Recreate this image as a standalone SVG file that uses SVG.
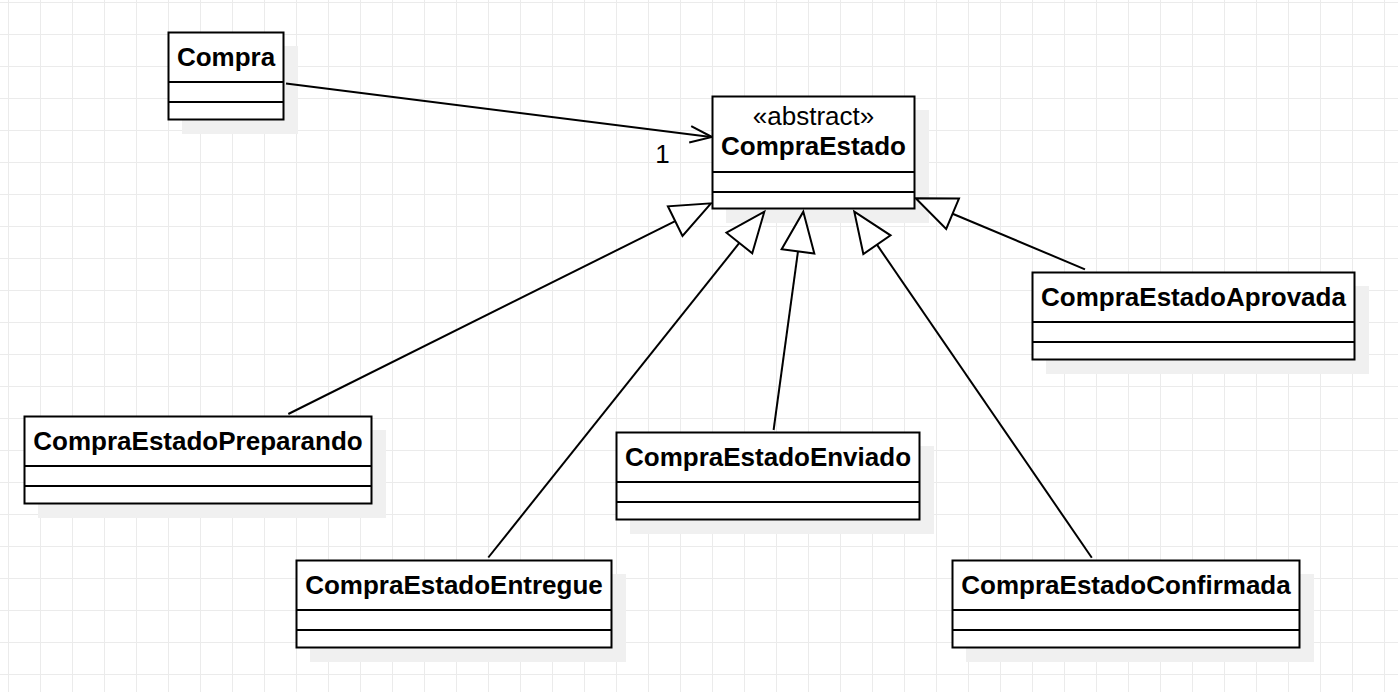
<svg xmlns="http://www.w3.org/2000/svg" width="1398" height="692" viewBox="0 0 1398 692">
<style>
.box{fill:#ffffff;stroke:#000000;stroke-width:2}
.sh{fill:#f0f0f0;stroke:none}
.div{stroke:#000000;stroke-width:2;fill:none}
.t{font-family:"Liberation Sans",Arial,sans-serif;font-size:26px;font-weight:bold;fill:#000000;text-anchor:middle}
.st{font-family:"Liberation Sans",Arial,sans-serif;font-size:26px;font-weight:normal;fill:#000000;text-anchor:middle}
.edge{stroke:#000000;stroke-width:2;fill:none}
.tri{fill:#ffffff;stroke:#000000;stroke-width:2;stroke-linejoin:miter}
</style>
<defs>
<pattern id="grid" x="8" y="2" width="32" height="32" patternUnits="userSpaceOnUse">
<path d="M0 0.5H32M0.5 0V32" stroke="#ebebeb" stroke-width="1" fill="none"/>
</pattern>
</defs>
<rect x="0" y="0" width="1398" height="692" fill="#ffffff"/>
<rect x="0" y="0" width="1398" height="692" fill="url(#grid)"/>

<g id="shadows">
<rect class="sh" x="182" y="46" width="116" height="88"/>
<rect class="sh" x="726" y="110" width="203" height="113"/>
<rect class="sh" x="38" y="430" width="348" height="88"/>
<rect class="sh" x="630" y="446" width="304" height="88"/>
<rect class="sh" x="310" y="574" width="316" height="88"/>
<rect class="sh" x="966" y="574" width="348" height="88"/>
<rect class="sh" x="1046" y="286" width="323" height="88"/>
</g>

<g id="connectors">
<line class="edge" x1="286" y1="83.5" x2="711" y2="137"/>
<polyline class="edge" points="691.2,126.1 712,137 689.2,142.5"/>
<text class="st" x="662.5" y="163">1</text>

<line class="edge" x1="288.3" y1="414" x2="675.2" y2="221.1"/>
<polygon class="tri" points="711,203.3 682.5,235.9 667.9,206.3"/>

<line class="edge" x1="488.3" y1="557.5" x2="739.35" y2="242.97"/>
<polygon class="tri" points="764.3,211.7 752.25,253.26 726.45,232.68"/>

<line class="edge" x1="773.6" y1="430" x2="797.98" y2="251.34"/>
<polygon class="tri" points="803.3,211.7 814.33,253.53 781.63,249.15"/>

<line class="edge" x1="1091.8" y1="557.7" x2="876.94" y2="244.68"/>
<polygon class="tri" points="854.3,211.7 890.54,235.34 863.34,254.02"/>

<line class="edge" x1="1085" y1="269.3" x2="952.59" y2="213.77"/>
<polygon class="tri" points="915.7,198.3 958.97,198.55 946.21,228.99"/>
</g>

<g id="Compra">
<rect class="box" x="168.5" y="32.5" width="115" height="87"/>
<line class="div" x1="168.5" y1="82" x2="283.5" y2="82"/>
<line class="div" x1="168.5" y1="102" x2="283.5" y2="102"/>
<text class="t" x="226" y="65.5">Compra</text>
</g>

<g id="CompraEstado">
<rect class="box" x="712.5" y="96.5" width="202" height="112"/>
<line class="div" x1="712.5" y1="172" x2="914.5" y2="172"/>
<line class="div" x1="712.5" y1="192" x2="914.5" y2="192"/>
<text class="st" x="813.5" y="124.5">«abstract»</text>
<text class="t" x="813.5" y="154.5">CompraEstado</text>
</g>

<g id="CompraEstadoPreparando">
<rect class="box" x="24.5" y="416.5" width="347" height="87"/>
<line class="div" x1="24.5" y1="466" x2="371.5" y2="466"/>
<line class="div" x1="24.5" y1="486" x2="371.5" y2="486"/>
<text class="t" x="198" y="449.5">CompraEstadoPreparando</text>
</g>

<g id="CompraEstadoEnviado">
<rect class="box" x="616.5" y="432.5" width="303" height="87"/>
<line class="div" x1="616.5" y1="482" x2="919.5" y2="482"/>
<line class="div" x1="616.5" y1="502" x2="919.5" y2="502"/>
<text class="t" x="768" y="465.5">CompraEstadoEnviado</text>
</g>

<g id="CompraEstadoEntregue">
<rect class="box" x="296.5" y="560.5" width="315" height="87"/>
<line class="div" x1="296.5" y1="610" x2="611.5" y2="610"/>
<line class="div" x1="296.5" y1="630" x2="611.5" y2="630"/>
<text class="t" x="454" y="593.5">CompraEstadoEntregue</text>
</g>

<g id="CompraEstadoConfirmada">
<rect class="box" x="952.5" y="560.5" width="347" height="87"/>
<line class="div" x1="952.5" y1="610" x2="1299.5" y2="610"/>
<line class="div" x1="952.5" y1="630" x2="1299.5" y2="630"/>
<text class="t" x="1126" y="593.5">CompraEstadoConfirmada</text>
</g>

<g id="CompraEstadoAprovada">
<rect class="box" x="1032.5" y="272.5" width="322" height="87"/>
<line class="div" x1="1032.5" y1="322" x2="1354.5" y2="322"/>
<line class="div" x1="1032.5" y1="342" x2="1354.5" y2="342"/>
<text class="t" x="1193.5" y="305.5">CompraEstadoAprovada</text>
</g>
</svg>
